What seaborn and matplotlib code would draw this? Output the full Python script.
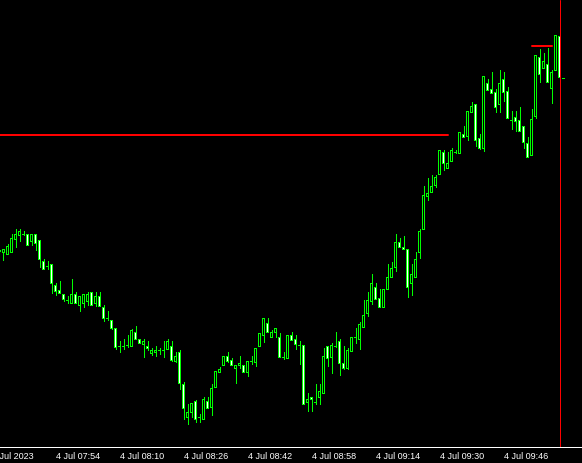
import numpy as np
import pandas as pd
import matplotlib
matplotlib.use("Agg")
import matplotlib.pyplot as plt
import seaborn as sns

# M1 bars, 4 Jul 2023 07:40 .. 10:01 (price in points)
bar_times = pd.date_range("2023-07-04 07:40", periods=142, freq="1min")

opens = [199, 198, 196, 198, 211, 215, 216, 216, 209, 216, 210, 189, 184, 186, 165, 160, 156, 150, 147, 156,
         145, 147, 149, 158, 147, 154, 143, 132, 130, 122, 104, 104, 105, 104, 118, 111, 106, 104, 97, 98,
         100, 100, 101, 104, 89, 98, 66, 33, 38, 49, 33, 31, 49, 43, 63, 78, 85, 94, 90, 82,
         85, 85, 78, 89, 88, 104, 115, 127, 113, 118, 113, 93, 92, 115, 111, 105, 105, 48, 53, 48,
         53, 57, 104, 93, 104, 109, 87, 82, 99, 113, 111, 123, 137, 149, 163, 152, 143, 161, 173, 183,
         208, 203, 201, 167, 173, 198, 221, 254, 258, 265, 276, 298, 282, 289, 298, 297, 316, 314, 338, 346,
         312, 302, 367, 361, 358, 346, 371, 359, 330, 333, 330, 324, 307, 295, 334, 393, 382, 386, 362, 380,
         414, 372]
highs = [201, 201, 206, 216, 221, 221, 219, 216, 216, 216, 210, 191, 189, 186, 167, 169, 156, 154, 171, 158,
         154, 156, 158, 158, 158, 158, 145, 139, 130, 122, 109, 111, 115, 121, 124, 111, 111, 109, 102, 104,
         102, 109, 111, 109, 98, 100, 68, 46, 47, 50, 36, 53, 53, 66, 79, 83, 94, 98, 92, 85,
         94, 85, 89, 94, 102, 117, 132, 132, 120, 122, 117, 98, 115, 118, 115, 109, 105, 57, 53, 66,
         66, 102, 104, 107, 118, 111, 104, 102, 113, 122, 128, 150, 158, 176, 167, 161, 161, 186, 188, 216,
         212, 214, 201, 186, 198, 221, 264, 272, 275, 275, 300, 300, 298, 302, 300, 318, 324, 339, 348, 346,
         316, 374, 371, 378, 361, 380, 378, 363, 339, 339, 343, 324, 313, 341, 395, 401, 397, 402, 380, 415,
         414, 372]
lows = [196, 190, 196, 198, 203, 209, 215, 205, 205, 200, 183, 181, 181, 157, 155, 157, 149, 147, 147, 147,
        139, 143, 145, 145, 144, 144, 129, 130, 121, 101, 98, 101, 103, 104, 111, 107, 93, 100, 95, 94,
        96, 93, 101, 89, 88, 61, 31, 26, 33, 28, 28, 31, 42, 35, 63, 78, 85, 88, 85, 67,
        82, 78, 74, 86, 84, 104, 108, 118, 113, 113, 93, 91, 92, 110, 101, 86, 46, 39, 39, 46,
        46, 57, 84, 77, 103, 75, 81, 81, 99, 107, 101, 123, 134, 146, 151, 143, 143, 161, 173, 179,
        203, 201, 153, 155, 173, 192, 221, 250, 258, 263, 276, 280, 282, 289, 297, 297, 313, 310, 338, 304,
        301, 299, 360, 357, 338, 338, 349, 332, 321, 319, 319, 302, 293, 295, 332, 368, 382, 368, 347, 380,
        364, 372]
closes = [200, 201, 204, 212, 216, 219, 216, 205, 216, 207, 191, 181, 184, 167, 159, 157, 151, 150, 156, 147,
          154, 156, 156, 145, 154, 144, 132, 132, 122, 103, 104, 104, 105, 120, 111, 107, 109, 102, 100, 100,
          100, 100, 109, 90, 94, 67, 42, 38, 47, 31, 33, 51, 42, 62, 79, 81, 94, 89, 85, 85,
          87, 78, 89, 89, 102, 117, 132, 118, 118, 122, 93, 93, 115, 110, 106, 105, 46, 51, 51, 48,
          59, 94, 92, 105, 104, 87, 82, 100, 113, 113, 126, 135, 150, 167, 151, 143, 161, 173, 182, 208,
          203, 201, 163, 176, 191, 219, 255, 257, 264, 273, 300, 287, 287, 300, 298, 318, 313, 339, 344, 310,
          302, 374, 360, 357, 343, 367, 358, 332, 330, 329, 319, 308, 293, 331, 395, 376, 389, 368, 378, 415,
          373, 372]

# horizontal levels (price, first bar, last bar) and vertical line bar
level_main = 315
level_main_bars = [-2, 111]
level_top = 404
level_top_bars = [132, 137]
vline_bar = 139

tick_bars = [-3, 13, 29, 45, 61, 77, 93, 109, 125]
tick_labels = ["4 Jul 2023", "4 Jul 07:54", "4 Jul 08:10", "4 Jul 08:26", "4 Jul 08:42",
               "4 Jul 08:58", "4 Jul 09:14", "4 Jul 09:30", "4 Jul 09:46"]

LIME = "#00ff00"
PX = 0.72  # one pixel in points at 100 dpi
FS = 6.5

sns.set_theme(style="dark", rc={"axes.facecolor": "black", "figure.facecolor": "black",
                                "axes.edgecolor": "white", "xtick.color": "white",
                                "ytick.color": "white", "axes.grid": False})
plt.rcParams["font.family"] = ["Liberation Sans", "DejaVu Sans"]

df = pd.DataFrame({"time": bar_times, "open": opens, "high": highs, "low": lows, "close": closes})
df["bar"] = np.arange(len(df)) - 1
df["top"] = df[["open", "close"]].max(axis=1)
df["bot"] = df[["open", "close"]].min(axis=1)

fig = plt.figure(figsize=(5.82, 4.63), dpi=100)
ax = fig.add_axes([0, 16 / 463, 1, 447 / 463])

# wicks
ax.vlines(df["bar"], df["low"], df["high"], color=LIME, lw=PX, zorder=2, antialiased=False)

# bodies: lime outline (3 px) with a 1 px core, black for bull, white for bear
body = df[df["close"] != df["open"]]
ax.bar(body["bar"], body["top"] - body["bot"] + 1, bottom=body["bot"] - 0.5, width=0.75,
       color=LIME, linewidth=0, zorder=3, antialiased=False)
core = body[(body["top"] - body["bot"]) > 1]
core_col = np.where(core["close"] > core["open"], "black", "white")
ax.bar(core["bar"], core["top"] - core["bot"] - 1, bottom=core["bot"] + 0.5, width=0.25,
       color=core_col, linewidth=0, zorder=4, antialiased=False)

doji = df[df["close"] == df["open"]]
ax.bar(doji["bar"], 1, bottom=doji["open"] - 0.5, width=0.75, color=LIME, linewidth=0,
       zorder=3, antialiased=False)

# levels
sns.lineplot(x=level_main_bars, y=[level_main, level_main], color="#ff0000", lw=2 * PX, ax=ax, zorder=5)
sns.lineplot(x=level_top_bars, y=[level_top, level_top], color="#ff0000", lw=2 * PX, ax=ax, zorder=5)
ax.axvline(vline_bar, color="#ff0000", lw=PX, zorder=5)

pad = 1.5
ax.set_xticks(tick_bars[1:])
ax.set_xticklabels(tick_labels[1:], ha="left", fontsize=FS, color="white")
ax.tick_params(axis="x", direction="out", length=3 * PX, width=PX, pad=pad, colors="white")
# first label sits left of the visible range, so it is placed by hand and clipped by the figure
ax.annotate(tick_labels[0], xy=(tick_bars[0], 0), xycoords=("data", "axes fraction"),
            xytext=(0, -(3 * PX + pad)), textcoords="offset points", ha="left", va="top",
            fontsize=FS, color="white", annotation_clip=False)
ax.set_yticks([])
ax.set_xlim(-0.875, 144.625)
ax.set_ylim(3, 450)
for side in ["top", "right", "left"]:
    ax.spines[side].set_visible(False)
ax.spines["bottom"].set_color("white")
ax.spines["bottom"].set_linewidth(PX)
ax.set_xlabel("")
ax.set_ylabel("")

fig.savefig("out.png", dpi=100, facecolor="black")
